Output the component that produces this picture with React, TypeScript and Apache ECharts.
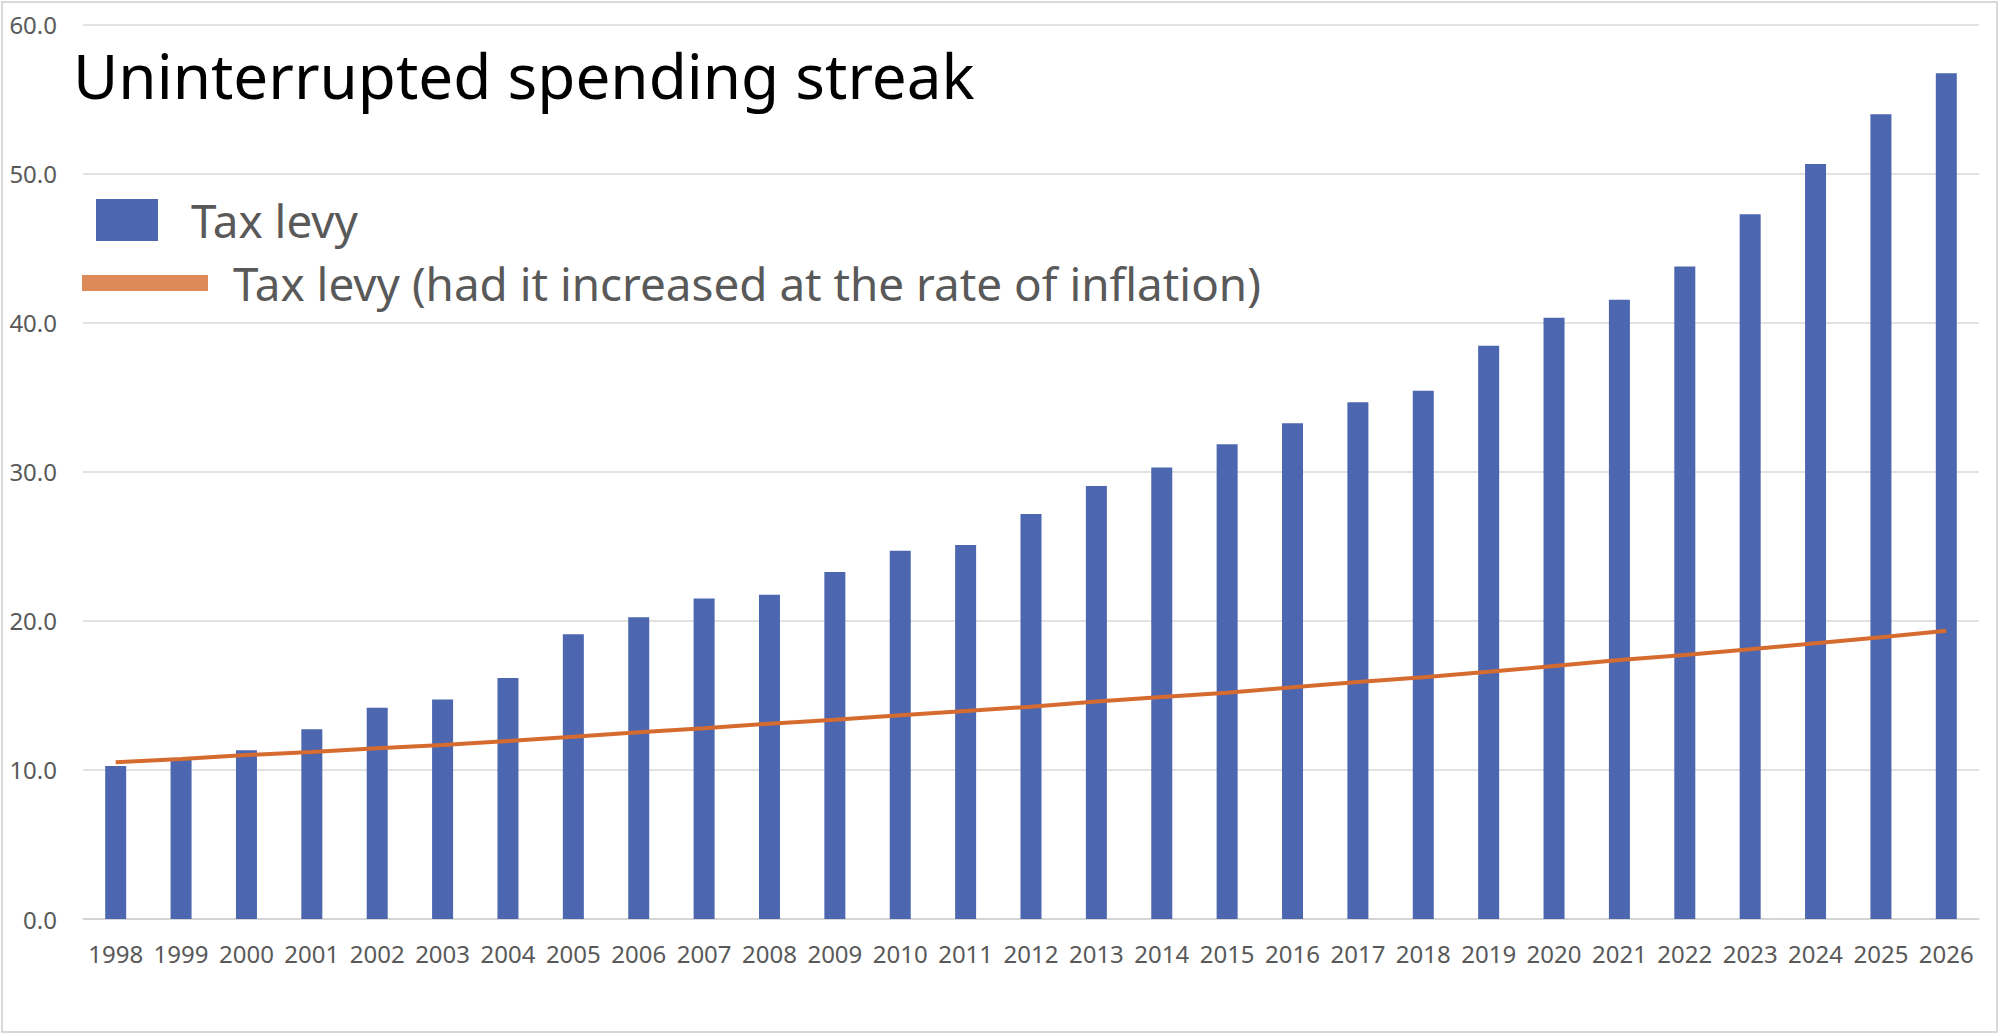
import React, { useEffect, useRef } from "react";
import * as echarts from "echarts";

const years = [
  "1998", "1999", "2000", "2001", "2002", "2003", "2004", "2005", "2006", "2007",
  "2008", "2009", "2010", "2011", "2012", "2013", "2014", "2015", "2016", "2017",
  "2018", "2019", "2020", "2021", "2022", "2023", "2024", "2025", "2026",
];

const taxLevy = [
  10.26, 10.66, 11.31, 12.72, 14.17, 14.73, 16.16, 19.09, 20.23, 21.5,
  21.75, 23.27, 24.7, 25.08, 27.16, 29.04, 30.29, 31.84, 33.25, 34.65,
  35.43, 38.45, 40.33, 41.53, 43.76, 47.26, 50.64, 53.97, 56.72,
];

const inflationLevy = [
  10.51, 10.73, 11.0, 11.2, 11.45, 11.67, 11.94, 12.22, 12.52, 12.79,
  13.1, 13.37, 13.66, 13.95, 14.24, 14.58, 14.89, 15.18, 15.54, 15.9,
  16.21, 16.58, 16.97, 17.37, 17.7, 18.09, 18.49, 18.89, 19.34,
];

const seriesNames = ["Tax levy", "Tax levy (had it increased at the rate of inflation)"];
const titleText = "Uninterrupted spending streak";

const FONT = "'Noto Sans', 'Open Sans', sans-serif";

export default function App() {
  const ref = useRef<HTMLDivElement>(null);

  useEffect(() => {
    if (!ref.current) return;
    const chart = echarts.init(ref.current, undefined, { renderer: "svg" });
    chart.setOption({
      animation: false,
      backgroundColor: "#ffffff",
      textStyle: { fontFamily: FONT },
      grid: { left: 83, right: 21, top: 24.4, bottom: 116, containLabel: false },
      xAxis: {
        type: "category",
        data: years,
        axisTick: { show: false },
        axisLine: { show: true, lineStyle: { color: "#d0d0d0", width: 1.5 } },
        axisLabel: {
          color: "#595959",
          fontSize: 24,
          fontFamily: FONT,
          margin: 22,
          interval: 0,
        },
      },
      yAxis: {
        type: "value",
        min: 0,
        max: 60,
        interval: 10,
        axisLine: { show: false },
        axisTick: { show: false },
        splitLine: { lineStyle: { color: "#d9d9d9", width: 1.5 } },
        axisLabel: {
          color: "#595959",
          fontSize: 24,
          fontFamily: FONT,
          margin: 26,
          formatter: (v: number) => v.toFixed(1),
        },
      },
      legend: [
        {
          left: 91,
          top: 188,
          padding: 5,
          orient: "horizontal",
          itemWidth: 62,
          itemHeight: 42,
          icon: "rect",
          selectedMode: false,
          data: [{ name: seriesNames[0], itemStyle: { color: "#4d66b0" } }],
          textStyle: {
            fontSize: 45.8,
            color: "#595959",
            fontFamily: FONT,
            lineHeight: 54,
            padding: [0, 0, 0, 28],
          },
        },
        {
          left: 77,
          top: 251,
          padding: 5,
          orient: "horizontal",
          itemWidth: 126,
          itemHeight: 16,
          icon: "rect",
          selectedMode: false,
          data: [{ name: seriesNames[1], itemStyle: { color: "#dd8a58" } }],
          textStyle: {
            fontSize: 45.8,
            color: "#595959",
            fontFamily: FONT,
            lineHeight: 54,
            padding: [0, 0, 0, 20],
          },
        },
      ],
      graphic: [
        {
          type: "rect",
          silent: true,
          shape: { x: 2, y: 2, width: 1995, height: 1030 },
          style: { fill: "none", stroke: "#d9d9d9", lineWidth: 2 },
          z: 0,
        },
        {
          type: "text",
          silent: true,
          z: 10,
          style: {
            x: 73,
            y: 75,
            text: titleText,
            fontSize: 62,
            fontFamily: FONT,
            fill: "#000000",
            textVerticalAlign: "middle",
            textAlign: "left",
          },
        },
      ],
      series: [
        {
          name: seriesNames[0],
          type: "bar",
          data: taxLevy,
          barWidth: 21,
          itemStyle: { color: "#4d66b0" },
          z: 2,
        },
        {
          name: seriesNames[1],
          type: "line",
          data: inflationLevy,
          symbol: "none",
          smooth: false,
          lineStyle: { color: "#d66b30", width: 4 },
          itemStyle: { color: "#d66b30" },
          z: 3,
        },
      ],
    });
    return () => chart.dispose();
  }, []);

  return (
    <div
      ref={ref}
      style={{ position: "fixed", left: 0, top: 0, width: 2000, height: 1035 }}
    />
  );
}
